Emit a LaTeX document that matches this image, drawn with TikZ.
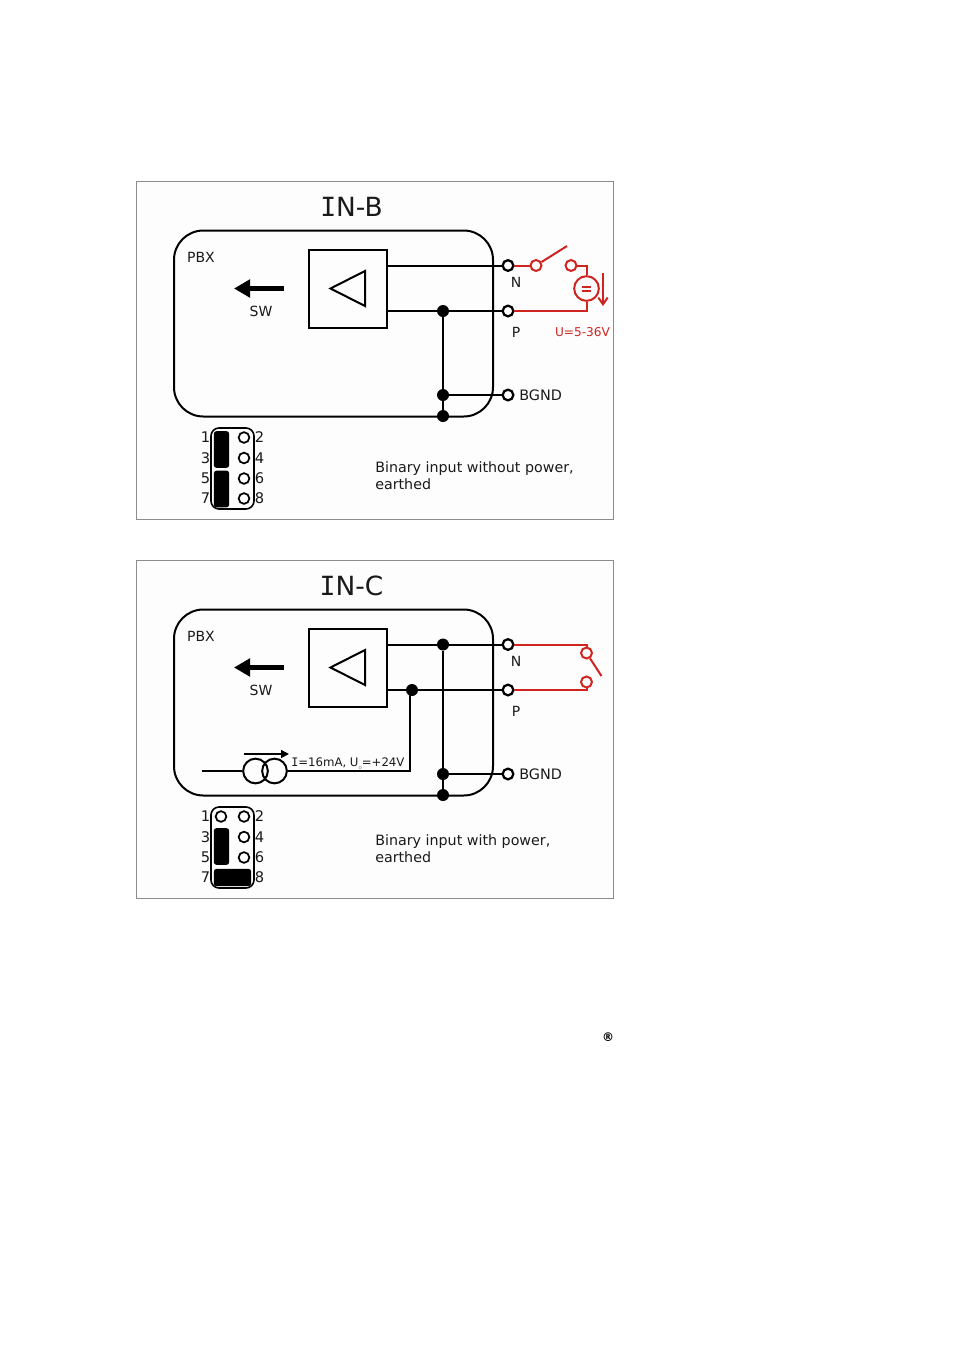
\documentclass[tikz,border=0pt]{standalone}
\usepackage{fontspec}
\setmainfont{DejaVu Sans}
\newfontfamily\monoi{DejaVu Sans Mono}
\usetikzlibrary{arrows.meta}
\definecolor{redw}{HTML}{D02420}
\definecolor{inkk}{HTML}{1A1A1A}
\definecolor{panelfill}{HTML}{FDFDFD}
\definecolor{panelline}{HTML}{8C8C8C}
\newcommand{\fs}[1]{\fontsize{#1}{#1}\selectfont}
\tikzset{
  x=0.75pt,y=-0.75pt,
  panelbox/.style={draw=panelline,fill=panelfill,line width=0.75pt},
  wire/.style={draw=black,line width=1.5pt},
  redwire/.style={draw=redw,line width=1.5pt},
  term/.style={circle,draw=black,fill=white,line width=1.7pt,inner sep=0pt,minimum size=8pt},
  redterm/.style={circle,draw=redw,fill=white,line width=1.5pt,inner sep=0pt,minimum size=8.2pt},
  dot/.style={circle,fill=black,inner sep=0pt,minimum size=9pt},
  pin/.style={circle,draw=black,fill=white,line width=1.3pt,inner sep=0pt,minimum size=8pt},
  lab/.style={font=\fs{10.5},text=inkk,inner sep=0pt},
  pinlab/.style={font=\fs{11},text=inkk,inner sep=0pt},
  titlelab/.style={font=\fs{19.8},text=inkk,inner sep=0pt},
  desc/.style={font=\fs{10.7},text=inkk,inner sep=0pt,anchor=base west},
  jbar/.style={fill=black,rounded corners=2pt},
  jframe/.style={draw=black,line width=1.2pt,rounded corners=6pt},
  housing/.style={draw=black,line width=1.5pt,rounded corners=22pt},
  bigarrow/.style={draw=black,line width=4.4pt,-{Triangle[length=12pt,width=13pt]}},
}
% common part of a panel
\newcommand{\panelbase}[1]{%
  \path[panelbox] (136.5,181.5) rectangle (613.5,519.5);
  \node[titlelab] (title) at (351.5,207) {{\monoi I}#1};
  \draw[housing] (174,230.5) rectangle (493,416.5);
  \node[lab] (pbx) at (201,257) {PBX};
  \node[lab] (sw) at (261,311) {SW};
  \coordinate (swa) at (284,288.5);
  \coordinate (swb) at (234,288.5);
  \draw[bigarrow] (swa) -- (swb);
  \node[draw=black,line width=1.5pt,inner sep=0pt,minimum size=58.5pt,fill=panelfill] (amp) at (348,289) {};
  \draw[line width=1.5pt] (365,271) -- (330.5,288.5) -- (365,306) -- cycle;
  \node[term] (N) at (508,265.5) {};
  \node[term] (P) at (508,311) {};
  \node[term] (G) at (508,395) {};
  \node[lab] (Nl) at (516,282.5) {N};
  \node[lab] (Pl) at (516,332) {P};
  \node[lab,font=\fs{10.8},anchor=west] (Gl) at (519,395) {BGND};
  \draw[jframe] (211,428) rectangle (254,509);
  \foreach \n/\y in {1/437.5,3/458,5/478.5,7/498.5}{\node[pinlab] (pl\n) at (205.5,\y) {\n};}
  \foreach \n/\y in {2/437.5,4/458,6/478.5,8/498.5}{\node[pinlab] (pl\n) at (259.5,\y) {\n};}
}
\begin{document}
\begin{tikzpicture}
\useasboundingbox (0,0) rectangle (954,1350);
\fill[white] (0,0) rectangle (954,1350);

% ---------- IN-B ----------
\begin{scope}
  \panelbase{N-B}
  \node[dot] (d1) at (443,311) {};
  \node[dot] (d2) at (443,395) {};
  \node[dot] (d3) at (443,416) {};
  \draw[wire] (amp.east |- N) -- (N);
  \draw[wire] (amp.east |- P) -- (d1);
  \draw[wire] (d1) -- (P);
  \draw[wire] (d1) -- (d2);
  \draw[wire] (d2) -- (d3);
  \draw[wire] (d2) -- (G);
  % red circuit
  \node[redterm] (c1) at (536,265.5) {};
  \node[redterm] (c2) at (571,265.5) {};
  \node[circle,draw=redw,fill=panelfill,line width=1.5pt,inner sep=0pt,minimum size=18.5pt] (src) at (586.5,288.5) {};
  \coordinate (swtip) at (567,246);
  \draw[redwire] (N) -- (c1);
  \draw[redwire] (c1) -- (swtip);
  \draw[redwire] (c2) -| (src);
  \draw[redwire] (src) |- (P);
  \draw[draw=redw,line width=1.2pt] (582,287) -- (591,287) (582,291) -- (591,291);
  \coordinate (ua) at (603,273);
  \coordinate (ub) at (603,306);
  \draw[draw=redw,line width=1.5pt,-{Straight Barb[length=5pt,width=7pt]}] (ua) -- (ub);
  \node[font=\fs{9.1},text=redw,inner sep=0pt] (ulab) at (582.5,332) {U=5-36V};
  % jumper
  \node[jbar,minimum width=11.5pt,minimum height=27.5pt,inner sep=0pt] (j1) at (221.5,449.5) {};
  \node[jbar,minimum width=11.5pt,minimum height=27.5pt,inner sep=0pt] (j2) at (221.5,489) {};
  \foreach \n/\y in {a/437.5,b/458,c/478.5,d/498.5}{\node[pin] (p\n) at (244,\y) {};}
  \node[desc] (t1) at (375,472) {Binary input without power,};
  \node[desc] (t2) at (375,489) {earthed};
\end{scope}

% ---------- IN-C ----------
\begin{scope}[yshift=-284.25pt]
  \panelbase{N-C}
  \node[dot] (d1) at (443,265.5) {};
  \node[dot] (d4) at (412,311) {};
  \node[dot] (d2) at (443,395) {};
  \node[dot] (d3) at (443,416) {};
  \draw[wire] (amp.east |- N) -- (d1);
  \draw[wire] (d1) -- (N);
  \draw[wire] (amp.east |- P) -- (d4);
  \draw[wire] (d4) -- (P);
  \draw[wire] (d1) -- (d2);
  \draw[wire] (d2) -- (d3);
  \draw[wire] (d2) -- (G);
  % current source
  \coordinate (cin) at (202,392);
  \node[circle,draw=black,line width=1.5pt,inner sep=0pt,minimum size=18.5pt] (s1) at (255.5,392) {};
  \node[circle,draw=black,line width=1.5pt,inner sep=0pt,minimum size=18.5pt] (s2) at (274.5,392) {};
  \coordinate (ia) at (244,375);
  \coordinate (ib) at (289,375);
  \draw[wire,line width=1.2pt,-{Triangle[length=6pt,width=6pt]}] (ia) -- (ib);
  \draw[wire] (cin) -- (s1);
  \draw[wire,line width=1.2pt] (s2) -- (410,392) -- (410,311);
  \node[font=\fs{8.8},text=inkk,inner sep=0pt,anchor=west] (ilab) at (291,385) {{\monoi I}=16mA, U\raisebox{-2pt}{\fs{4}\textcolor{gray}{o}}=+24V};
  % red loop
  \node[redterm,minimum size=8.2pt] (c1) at (586.5,274) {};
  \node[redterm,minimum size=8.2pt] (c2) at (586.5,303) {};
  \coordinate (swtip) at (601.5,297);
  \draw[redwire] (N) -| (c1);
  \draw[redwire] (c1) -- (swtip);
  \draw[redwire] (P) -| (c2);
  % jumper
  \node[pin] (pa0) at (221,437.5) {};
  \node[pin] (pa) at (244,437.5) {};
  \node[jbar,minimum width=11.5pt,minimum height=27.5pt,inner sep=0pt] (j1) at (221.5,467.5) {};
  \node[jbar,minimum width=28pt,minimum height=13pt,inner sep=0pt] (j2) at (232.5,498.5) {};
  \node[pin] (pb) at (244,458) {};
  \node[pin] (pc) at (244,478.5) {};
  \node[desc] (t1) at (375,466) {Binary input with power,};
  \node[desc] (t2) at (375,483) {earthed};
\end{scope}

\node[font=\bfseries\fs{9},inner sep=0pt] (reg) at (608,1037) {®};
\end{tikzpicture}
\end{document}
